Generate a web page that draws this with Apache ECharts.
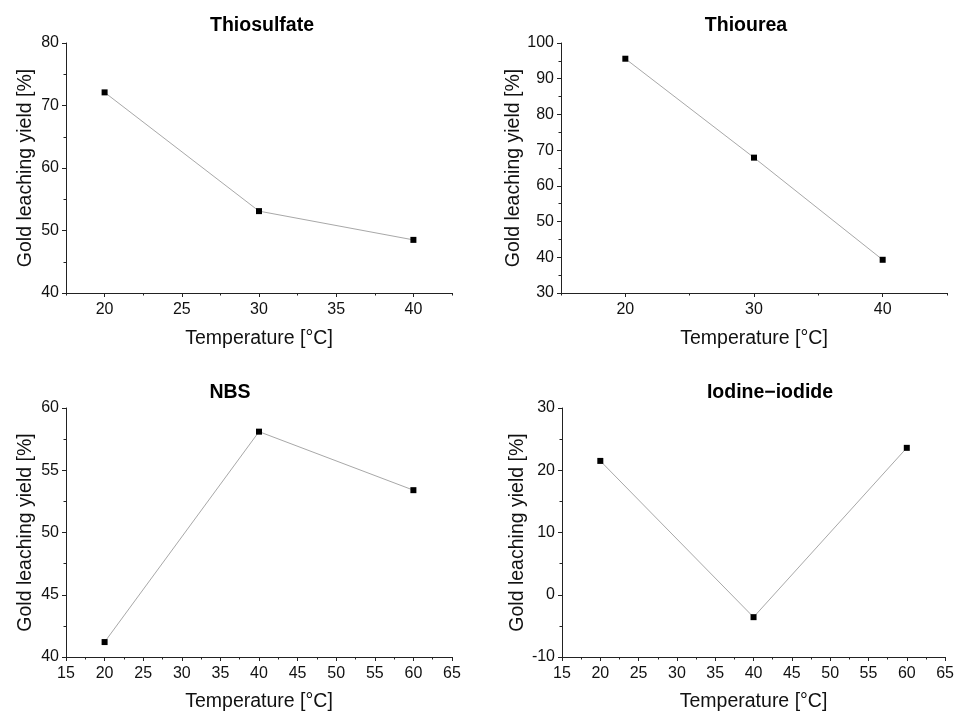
<!DOCTYPE html>
<html>
<head>
<meta charset="utf-8">
<script src="https://cdn.jsdelivr.net/npm/echarts@6/dist/echarts.min.js"></script>
<style>
  html, body { margin: 0; padding: 0; background: #fff; }
  #main { width: 957px; height: 713px; }
</style>
</head>
<body>
<div id="main"></div>
<script>
// values
var panelTitles = ['Thiosulfate', 'Thiourea', 'NBS', 'Iodine\u2212iodide'];

var thiosulfateTemp = [20, 30, 40];
var thiosulfateYield = [72.1, 53.1, 48.5];
var thioureaTemp = [20, 30, 40];
var thioureaYield = [95.6, 67.9, 39.3];
var nbsTemp = [20, 40, 60];
var nbsYield = [41.2, 58.1, 53.4];
var iodineTemp = [20, 40, 60];
var iodineYield = [21.5, -3.6, 23.6];

// x tick labels / minor tick positions
var thiosulfateXTicks = [20, 25, 30, 35, 40];
var thiosulfateXMinor = [17.5, 22.5, 27.5, 32.5, 37.5, 42.5];
var thioureaXTicks = [20, 30, 40];
var thioureaXMinor = [15, 25, 35, 45];
var wideXTicks = [15, 20, 25, 30, 35, 40, 45, 50, 55, 60, 65];
var wideXMinor = [17.5, 22.5, 27.5, 32.5, 37.5, 42.5, 47.5, 52.5, 57.5, 62.5];

var FONT = "'Liberation Sans', Arial, sans-serif";
var AXIS_COLOR = '#222';

var panels = [
  {temp: thiosulfateTemp, val: thiosulfateYield, xMin: 17.5, xMax: 42.5, xTicks: thiosulfateXTicks, xMinor: thiosulfateXMinor,
   yMin: 40, yMax: 80, yStep: 10, grid: {left: 66, top: 43, width: 386, height: 250}, yGap: 30, xGap: 36, title: [262, 16]},
  {temp: thioureaTemp, val: thioureaYield, xMin: 15, xMax: 45, xTicks: thioureaXTicks, xMinor: thioureaXMinor,
   yMin: 30, yMax: 100, yStep: 10, grid: {left: 561, top: 43, width: 386, height: 250}, yGap: 37, xGap: 36, title: [746, 16]},
  {temp: nbsTemp, val: nbsYield, xMin: 15, xMax: 65, xTicks: wideXTicks, xMinor: wideXMinor,
   yMin: 40, yMax: 60, yStep: 5, grid: {left: 66, top: 408, width: 386, height: 250}, yGap: 30, xGap: 35, title: [230, 383]},
  {temp: iodineTemp, val: iodineYield, xMin: 15, xMax: 65, xTicks: wideXTicks, xMinor: wideXMinor,
   yMin: -10, yMax: 30, yStep: 10, grid: {left: 562, top: 408, width: 385, height: 250}, yGap: 34, xGap: 35, title: [770, 383]}
];

var option = {
  animation: false,
  backgroundColor: '#fff',
  textStyle: {fontFamily: FONT},
  title: [],
  grid: [],
  xAxis: [],
  yAxis: [],
  series: []
};

panels.forEach(function (p, i) {
  option.title.push({
    text: panelTitles[i],
    left: p.title[0], top: p.title[1], textAlign: 'center', padding: 0,
    textStyle: {fontFamily: FONT, fontSize: 19.5, fontWeight: 'bold', color: '#000'}
  });
  option.grid.push(Object.assign({containLabel: false}, p.grid));

  // main x axis: line, major ticks, labels
  option.xAxis.push({
    type: 'value', gridIndex: i, min: p.xMin, max: p.xMax, position: 'bottom',
    name: 'Temperature [°C]', nameLocation: 'middle', nameGap: p.xGap,
    nameTextStyle: {fontFamily: FONT, fontSize: 19.5, color: '#111'},
    axisLine: {show: true, onZero: false, lineStyle: {color: AXIS_COLOR, width: 1}},
    axisTick: {show: true, length: 4, customValues: p.xTicks, lineStyle: {color: AXIS_COLOR}},
    axisLabel: {show: true, customValues: p.xTicks, margin: 9, fontFamily: FONT, fontSize: 16, color: '#111'},
    splitLine: {show: false}
  });
  // second x axis only for the minor ticks
  option.xAxis.push({
    type: 'value', gridIndex: i, min: p.xMin, max: p.xMax, position: 'bottom',
    axisLine: {show: false, onZero: false},
    axisTick: {show: true, length: 2.5, customValues: p.xMinor, lineStyle: {color: AXIS_COLOR}},
    axisLabel: {show: false},
    splitLine: {show: false}
  });

  option.yAxis.push({
    type: 'value', gridIndex: i, min: p.yMin, max: p.yMax, interval: p.yStep,
    name: 'Gold leaching yield [%]', nameLocation: 'middle', nameGap: p.yGap,
    nameTextStyle: {fontFamily: FONT, fontSize: 19.5, color: '#111'},
    axisLine: {show: true, onZero: false, lineStyle: {color: AXIS_COLOR, width: 1}},
    axisTick: {show: true, length: 4, lineStyle: {color: AXIS_COLOR}},
    minorTick: {show: true, splitNumber: 2, length: 2.5, lineStyle: {color: AXIS_COLOR}},
    axisLabel: {margin: 7, fontFamily: FONT, fontSize: 16, color: '#111'},
    splitLine: {show: false}
  });

  option.series.push({
    type: 'line',
    xAxisIndex: i * 2, yAxisIndex: i,
    data: p.temp.map(function (t, k) { return [t, p.val[k]]; }),
    symbol: 'rect', symbolSize: 6,
    itemStyle: {color: '#000'},
    lineStyle: {color: '#a8a8a8', width: 1}
  });
});

var chart = echarts.init(document.getElementById('main'), null, {renderer: 'canvas'});
chart.setOption(option);
</script>
</body>
</html>
